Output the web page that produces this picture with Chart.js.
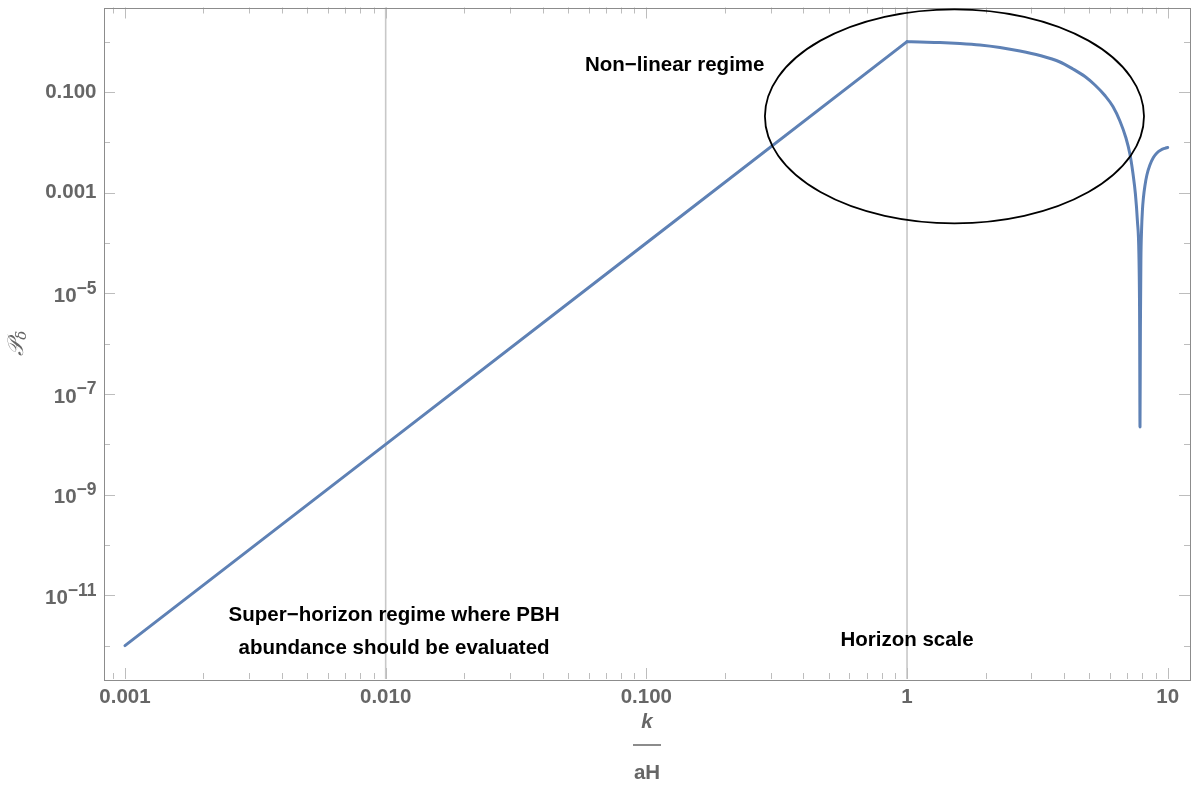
<!DOCTYPE html>
<html>
<head>
<meta charset="utf-8">
<script src="https://cdn.jsdelivr.net/npm/chart.js@4.4.1/dist/chart.umd.min.js"></script>
<style>
html, body { margin: 0; padding: 0; background: #ffffff; }
canvas { display: block; }
</style>
</head>
<body>
<canvas id="chart" width="1200" height="792"></canvas>
<script>
// ---------- data ----------
const riseK = [0.001, 0.01, 0.1, 1];
const riseP = [1e-12, 1e-8, 1e-4, 1];

const fallK = [1, 1.1205, 1.337, 1.596, 1.904, 2.272, 2.711, 3.235, 3.860, 4.329, 4.814, 5.258, 5.742,
               6.164, 6.556, 6.916, 7.161, 7.353, 7.518, 7.652, 7.753, 7.802, 7.829,
               7.857, 7.891, 7.940, 7.995, 8.067, 8.174, 8.320, 8.544, 8.812, 9.089, 9.417, 9.757, 10];
const fallP = [1, 0.985, 0.963, 0.920, 0.859, 0.766, 0.653, 0.531, 0.3946, 0.2865, 0.2032, 0.1378, 0.0852,
               0.0515, 0.02654, 0.0122, 5.864e-3, 2.459e-3, 9.41e-4, 2.735e-4, 6.04e-5, 3.09e-6, 2.21e-8,
               1.955e-6, 4.39e-5, 1.897e-4, 4.32e-4, 7.83e-4, 1.357e-3, 2.244e-3, 3.546e-3, 4.996e-3, 6.14e-3, 7.04e-3, 7.61e-3, 7.90e-3];

// axis ticks / labels
const xMajorTicks = [0.001, 0.01, 0.1, 1, 10];
const xTickLabels = ['0.001', '0.010', '0.100', '1', '10'];
const yLabelValues = [1e-1, 1e-3, 1e-5, 1e-7, 1e-9, 1e-11];
const yLabelBase = ['0.100', '0.001', '10', '10', '10', '10'];
const yLabelExp = ['', '', '\u22125', '\u22127', '\u22129', '\u221211'];
const yMinorDecades = [1, 1e-2, 1e-4, 1e-6, 1e-8, 1e-10, 1e-12];

// axis range
const xRange = [Math.pow(10, -3.0805), Math.pow(10, 1.0855)];
const yRange = [Math.pow(10, -12.663), Math.pow(10, 0.679)];

// annotations
const guideK = [0.01, 1];
const ellipseK = [0.285, 8.11];
const ellipseP = [2.46e-4, 4.40];
const noteText = ['Non\u2212linear regime', 'Super\u2212horizon regime where PBH', 'abundance should be evaluated', 'Horizon scale'];
const noteK = [0.1285, 0.01077, 0.01077, 1.0];
const noteP = [0.344, 4.07e-12, 8.97e-13, 1.29e-12];
const xTitleTop = 'k';
const xTitleBottom = 'aH';
const yTitleMain = '\uD835\uDCAB';
const yTitleSub = '\u03B4';

// ---------- styling ----------
const FAMILY = '"Liberation Sans", Arial, Helvetica, sans-serif';
const GRAY = '#666666';
const BLUE = '#5E81B5';

function line(ctx, x0, y0, x1, y1) {
  ctx.beginPath(); ctx.moveTo(x0, y0); ctx.lineTo(x1, y1); ctx.stroke();
}

const decor = {
  id: 'decor',
  beforeDatasetsDraw(chart) {
    const { ctx, chartArea: a, scales: { x, y } } = chart;
    ctx.save();
    // vertical guide lines
    ctx.strokeStyle = '#c8c8c8';
    ctx.lineWidth = 1.6;
    guideK.forEach(k => { const px = x.getPixelForValue(k); line(ctx, px, a.top, px, a.bottom); });
    // tick marks (inward), bottom/top
    ctx.strokeStyle = '#bdbdbd';
    ctx.lineWidth = 1;
    xMajorTicks.forEach(v => {
      const px = Math.round(x.getPixelForValue(v)) + 0.5;
      line(ctx, px, a.bottom, px, a.bottom - 11);
      line(ctx, px, a.top, px, a.top + 11);
    });
    for (let d = -4; d <= 1; d++) {
      for (let m = 2; m <= 9; m++) {
        const v = m * Math.pow(10, d);
        if (v <= xRange[0] || v >= xRange[1]) continue;
        const px = Math.round(x.getPixelForValue(v)) + 0.5;
        line(ctx, px, a.bottom, px, a.bottom - 6);
        line(ctx, px, a.top, px, a.top + 6);
      }
    }
    // left/right
    yLabelValues.forEach(v => {
      const py = Math.round(y.getPixelForValue(v)) + 0.5;
      line(ctx, a.left, py, a.left + 11, py);
      line(ctx, a.right, py, a.right - 11, py);
    });
    yMinorDecades.forEach(v => {
      const py = Math.round(y.getPixelForValue(v)) + 0.5;
      line(ctx, a.left, py, a.left + 6, py);
      line(ctx, a.right, py, a.right - 6, py);
    });
    // frame
    ctx.strokeStyle = '#8c8c8c';
    ctx.lineWidth = 1;
    ctx.strokeRect(Math.round(a.left) + 0.5, Math.round(a.top) + 0.5, Math.round(a.right - a.left), Math.round(a.bottom - a.top));
    ctx.restore();
  },
  afterDatasetsDraw(chart) {
    const { ctx, chartArea: a, scales: { x, y } } = chart;
    ctx.save();
    // ellipse
    const ex0 = x.getPixelForValue(ellipseK[0]), ex1 = x.getPixelForValue(ellipseK[1]);
    const ey0 = y.getPixelForValue(ellipseP[1]), ey1 = y.getPixelForValue(ellipseP[0]);
    ctx.beginPath();
    ctx.ellipse((ex0 + ex1) / 2, (ey0 + ey1) / 2, (ex1 - ex0) / 2, (ey1 - ey0) / 2, 0, 0, Math.PI * 2);
    ctx.strokeStyle = '#000000';
    ctx.lineWidth = 1.8;
    ctx.stroke();
    // notes
    ctx.fillStyle = '#000000';
    ctx.textAlign = 'center';
    ctx.textBaseline = 'middle';
    ctx.font = 'bold 20.5px ' + FAMILY;
    noteText.forEach((t, i) => {
      ctx.fillText(t, x.getPixelForValue(noteK[i]), y.getPixelForValue(noteP[i]));
    });
    // y tick labels
    ctx.fillStyle = GRAY;
    ctx.textAlign = 'right';
    ctx.textBaseline = 'alphabetic';
    const rx = a.left - 7.5;
    yLabelValues.forEach((v, i) => {
      const py = y.getPixelForValue(v);
      if (!yLabelExp[i]) {
        ctx.font = 'bold 20.5px ' + FAMILY;
        ctx.fillText(yLabelBase[i], rx, py + 5.5);
      } else {
        ctx.font = 'bold 17.5px ' + FAMILY;
        const ew = ctx.measureText(yLabelExp[i]).width;
        ctx.fillText(yLabelExp[i], rx, py + 0.5);
        ctx.font = 'bold 20.5px ' + FAMILY;
        ctx.fillText(yLabelBase[i], rx - ew, py + 8.7);
      }
    });
    // x title (fraction)
    const cx = (a.left + a.right) / 2;
    ctx.textAlign = 'center';
    ctx.textBaseline = 'middle';
    ctx.font = 'italic bold 20.5px ' + FAMILY;
    ctx.fillText(xTitleTop, cx, a.bottom + 43);
    ctx.strokeStyle = GRAY;
    ctx.lineWidth = 1.5;
    line(ctx, cx - 14, a.bottom + 66, cx + 14, a.bottom + 66);
    ctx.font = 'bold 20.5px ' + FAMILY;
    ctx.fillText(xTitleBottom, cx, a.bottom + 94);
    // y title (rotated)
    ctx.translate(17, (a.top + a.bottom) / 2);
    ctx.rotate(-Math.PI / 2);
    ctx.textAlign = 'left';
    ctx.textBaseline = 'alphabetic';
    ctx.font = 'italic 22px "DejaVu Serif", "DejaVu Sans", serif';
    const wP = ctx.measureText(yTitleMain).width;
    ctx.font = 'italic 15px "DejaVu Serif", "DejaVu Sans", serif';
    const wD = ctx.measureText(yTitleSub).width;
    const start = -(wP + wD) / 2;
    ctx.font = 'italic 22px "DejaVu Serif", "DejaVu Sans", serif';
    ctx.fillText(yTitleMain, start, 6);
    ctx.font = 'italic 15px "DejaVu Serif", "DejaVu Sans", serif';
    ctx.fillText(yTitleSub, start + wP, 9);
    ctx.restore();
  }
};

new Chart(document.getElementById('chart'), {
  type: 'line',
  data: {
    datasets: [
      {
        data: riseK.map((k, i) => ({ x: k, y: riseP[i] })),
        borderColor: BLUE, borderWidth: 3, pointRadius: 0, tension: 0,
        borderCapStyle: 'round', borderJoinStyle: 'round'
      },
      {
        data: fallK.map((k, i) => ({ x: k, y: fallP[i] })),
        borderColor: BLUE, borderWidth: 3, pointRadius: 0,
        cubicInterpolationMode: 'monotone',
        borderCapStyle: 'round', borderJoinStyle: 'round'
      }
    ]
  },
  options: {
    responsive: false,
    animation: false,
    devicePixelRatio: 1,
    layout: { padding: { top: 7.5, right: 10, bottom: 0, left: 0 } },
    plugins: { legend: { display: false }, tooltip: { enabled: false } },
    scales: {
      x: {
        type: 'logarithmic',
        position: 'bottom',
        min: xRange[0],
        max: xRange[1],
        afterBuildTicks: s => { s.ticks = xMajorTicks.map(v => ({ value: v })); },
        ticks: {
          autoSkip: false, maxRotation: 0, minRotation: 0, padding: 6,
          color: GRAY,
          font: { family: FAMILY, weight: 'bold', size: 20.5 },
          callback: (v, i) => xTickLabels[i]
        },
        grid: { display: false, drawTicks: false, tickLength: 0 },
        border: { display: false },
        afterFit: s => { s.height = 113; }
      },
      y: {
        type: 'logarithmic',
        min: yRange[0],
        max: yRange[1],
        ticks: { display: false },
        grid: { display: false, drawTicks: false, tickLength: 0 },
        border: { display: false },
        afterFit: s => { s.width = 104; }
      }
    }
  },
  plugins: [decor]
});
</script>
</body>
</html>
